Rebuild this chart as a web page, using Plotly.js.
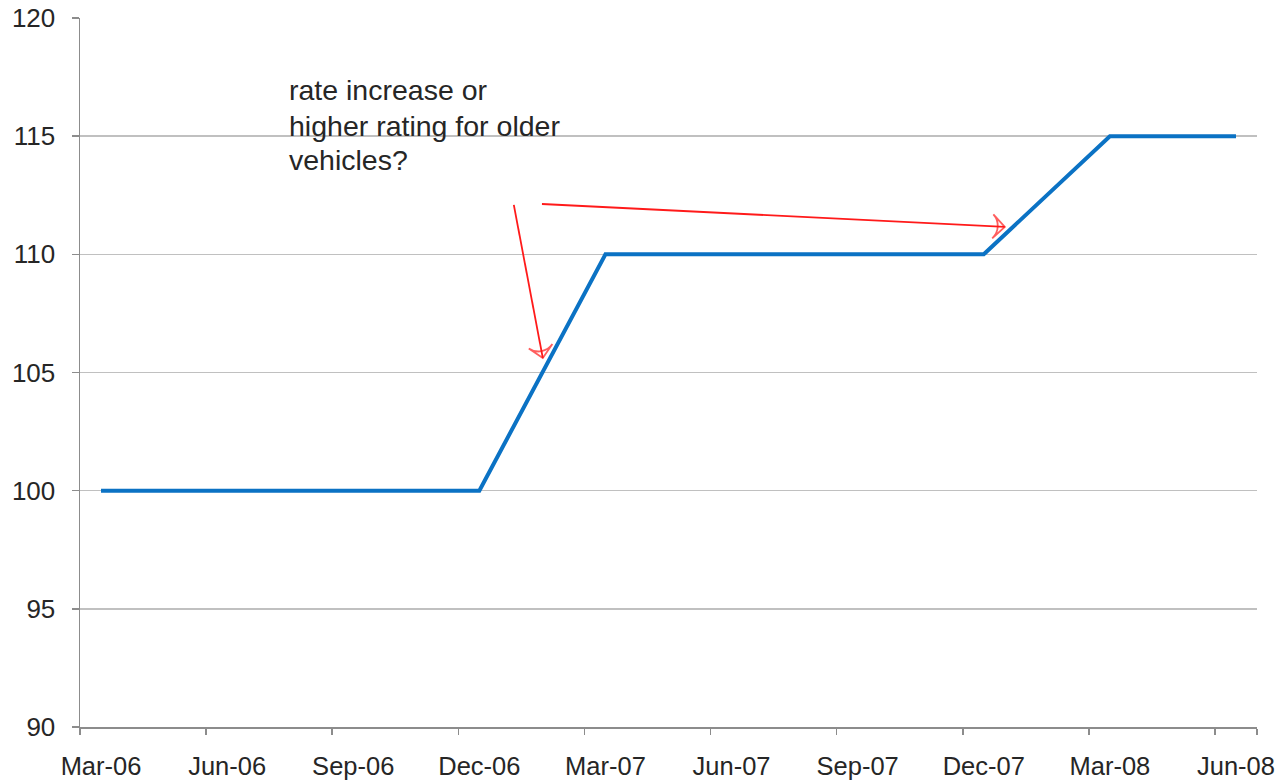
<!DOCTYPE html>
<html>
<head>
<meta charset="utf-8">
<script src="https://cdn.plot.ly/plotly-3.0.1.min.js"></script>
<style>
  html, body { margin: 0; padding: 0; background: #ffffff; }
  #chart { width: 1283px; height: 781px; }
</style>
</head>
<body>
<div id="chart"></div>
<script>
// Quarterly index values
const categories = ['Mar-06','Jun-06','Sep-06','Dec-06','Mar-07','Jun-07','Sep-07','Dec-07','Mar-08','Jun-08'];
const values = [100, 100, 100, 100, 110, 110, 110, 110, 115, 115];
const monthsPerStep = 3;

// Annotation text lines
const noteLines = ['rate increase or', 'higher rating for older', 'vehicles?'];
// Arrow endpoints (months since Mar-06, index value)
const arrow1 = { x: [9.82, 10.51], y: [112.09, 105.61] };
const arrow2 = { x: [10.49, 21.50], y: [112.13, 111.16] };

const xPos = categories.map((c, i) => i * monthsPerStep);
const nMonths = (categories.length - 1) * monthsPerStep + 1;
const boundaries = categories.map((c, i) => i * monthsPerStep - 0.5).concat([nMonths - 0.5]);

const font = 'Liberation Sans, Arial, sans-serif';
const textColor = '#262626';

function arrowTrace(a) {
  return {
    x: a.x, y: a.y, type: 'scatter', mode: 'lines+markers',
    line: { color: '#ff1a1a', width: 1.8 },
    marker: { symbol: ['circle', 'arrow-wide-open'], size: [0, 17], color: '#ff1a1a',
              angleref: 'previous', line: { color: '#ff1a1a', width: 1.8 } },
    hoverinfo: 'skip', showlegend: false, cliponaxis: false
  };
}

const traces = [
  {
    x: xPos, y: values, type: 'scatter', mode: 'lines',
    line: { color: '#0b72c4', width: 4 },
    showlegend: false, cliponaxis: false
  },
  arrowTrace(arrow1),
  arrowTrace(arrow2)
];

const noteY = [116.95, 115.45, 113.98];
const annotations = noteLines.map((t, i) => ({
  x: 4.42, y: noteY[i], xref: 'x', yref: 'y',
  text: t, showarrow: false, xanchor: 'left', yanchor: 'middle',
  font: { family: font, size: 28.5, color: textColor }
}));

const layout = {
  width: 1283, height: 781,
  margin: { l: 80, r: 26, t: 18, b: 54 },
  paper_bgcolor: '#ffffff', plot_bgcolor: '#ffffff',
  showlegend: false,
  xaxis: {
    range: [-0.5, nMonths - 0.5],
    tickmode: 'array', tickvals: xPos, ticktext: categories,
    ticks: '', showgrid: false, zeroline: false,
    showline: true, linecolor: '#8c8c8c', linewidth: 1.5,
    tickfont: { family: font, size: 25.5, color: textColor },
    ticklabelstandoff: 16,
    minor: { tickmode: 'array', tickvals: boundaries, ticks: 'outside', ticklen: 6,
             tickcolor: '#8c8c8c', tickwidth: 1.5, showgrid: false },
    automargin: false, fixedrange: true
  },
  yaxis: {
    range: [90, 120], tickmode: 'linear', tick0: 90, dtick: 5,
    ticks: 'outside', ticklen: 7, tickcolor: '#8c8c8c', tickwidth: 1.5,
    showgrid: true, gridcolor: '#c0c0c0', gridwidth: 1.5,
    zeroline: false, showline: true, linecolor: '#8c8c8c', linewidth: 1.5,
    tickfont: { family: font, size: 26, color: textColor },
    ticklabelstandoff: 11,
    automargin: false, fixedrange: true
  },
  annotations: annotations
};

Plotly.newPlot('chart', traces, layout, { displayModeBar: false, staticPlot: true });
</script>
</body>
</html>
